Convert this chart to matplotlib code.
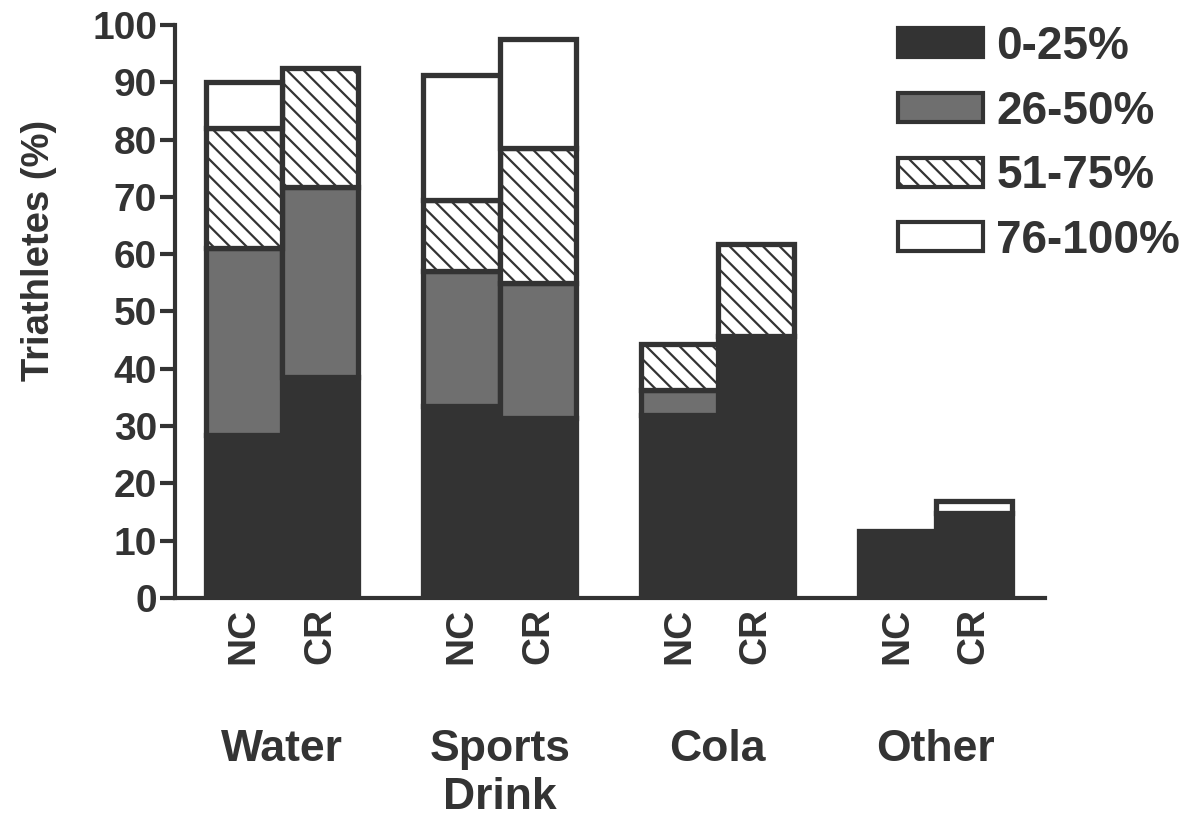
import matplotlib
matplotlib.use("Agg")
import matplotlib.pyplot as plt
import numpy as np
from matplotlib.patches import Patch

plt.rcParams["font.family"] = ["Liberation Sans", "DejaVu Sans"]
plt.rcParams["font.weight"] = "bold"
plt.rcParams["hatch.linewidth"] = 1.6

# ── Data: share of triathletes per fluid, NC vs CR, split by intake band ─────
groups = ["Water", "Sports\nDrink", "Cola", "Other"]
conditions = ["NC", "CR"]
bands = ["0-25%", "26-50%", "51-75%", "76-100%"]

# segment heights (%), order: Water NC, Water CR, Sports NC, Sports CR,
# Cola NC, Cola CR, Other NC, Other CR
band_0_25 = [28.5, 38.5, 33.5, 31.5, 32.0, 45.8, 11.7, 14.8]
band_26_50 = [32.5, 33.2, 23.5, 23.5, 4.3, 0.0, 0.0, 0.0]
band_51_75 = [21.0, 20.8, 12.5, 23.5, 8.0, 16.0, 0.0, 0.0]
band_76_100 = [8.0, 0.0, 21.7, 19.1, 0.0, 0.0, 0.0, 2.2]

DARK = "#333333"
GREY = "#6f6f6f"
styles = [
    dict(facecolor=DARK, hatch=None),
    dict(facecolor=GREY, hatch=None),
    dict(facecolor="white", hatch="\\\\"),
    dict(facecolor="white", hatch=None),
]

fig = plt.figure(figsize=(11.91, 8.21), dpi=100)
ax = fig.add_axes([0.147, 0.2716, 0.730, 0.698])

width = 0.35
group_x = np.arange(len(groups))
bar_x = np.ravel([[g - width / 2, g + width / 2] for g in group_x])

bottom = np.zeros(len(bar_x))
for vals, st in zip([band_0_25, band_26_50, band_51_75, band_76_100], styles):
    vals = np.asarray(vals)
    keep = vals > 0
    ax.bar(bar_x[keep], vals[keep], width=width, bottom=bottom[keep],
           facecolor=st["facecolor"], edgecolor=DARK, linewidth=3.8,
           hatch=st["hatch"], zorder=2)
    bottom += vals

# ── Axes ──────────────────────────────────────────────────────────────────────
ax.set_xlim(-0.49, 3.5)
ax.set_ylim(0, 100)
ax.set_yticks(np.arange(0, 101, 10))
ax.set_xticks(bar_x)
ax.set_xticklabels(conditions * len(groups), rotation=90, fontsize=28,
                   fontweight="bold", color=DARK)
ax.tick_params(axis="x", length=0, pad=7)
ax.tick_params(axis="y", length=11, width=3, color=DARK, labelsize=28,
               labelcolor=DARK, pad=2)
for lab in ax.get_yticklabels():
    lab.set_fontweight("bold")

for side in ("top", "right"):
    ax.spines[side].set_visible(False)
for side in ("left", "bottom"):
    ax.spines[side].set_linewidth(3)
    ax.spines[side].set_color(DARK)

ax.set_ylabel("Triathletes (%)", fontsize=27.5, fontweight="bold", color=DARK)
ax.yaxis.set_label_coords(-0.136, 0.607)

for g, name in zip(group_x, groups):
    ax.text(g, -0.228, name, transform=ax.get_xaxis_transform(),
            ha="center", va="top", fontsize=32, fontweight="bold",
            color=DARK, linespacing=1.22)

# ── Legend ────────────────────────────────────────────────────────────────────
handles = [Patch(facecolor=st["facecolor"], edgecolor=DARK, linewidth=3,
                 hatch=st["hatch"]) for st in styles]
leg = fig.legend(handles, bands, loc="upper right",
                 bbox_to_anchor=(1.014, 1.003), frameon=False,
                 fontsize=33, handlelength=1.86, handleheight=0.6,
                 handletextpad=0.28, labelspacing=0.45, borderpad=0.1)
for t in leg.get_texts():
    t.set_fontweight("bold")
    t.set_color(DARK)

fig.savefig("out.png", dpi=100)
